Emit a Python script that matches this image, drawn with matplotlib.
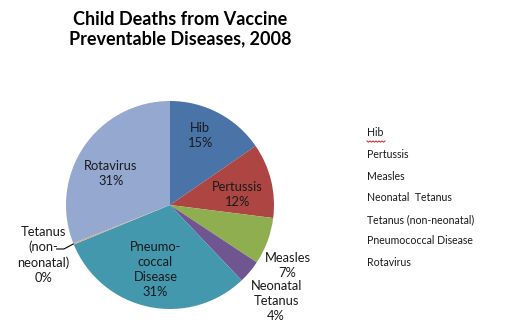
import numpy as np
import matplotlib
matplotlib.use("Agg")
import matplotlib.pyplot as plt

plt.rcParams['font.family'] = ['Lato', 'DejaVu Sans']

# legend order
diseases = ["Hib", "Pertussis", "Measles", "Neonatal  Tetanus",
            "Tetanus (non-neonatal)", "Pneumococcal Disease", "Rotavirus"]

# slices in the order they sit on the pie (clockwise from 12 o'clock)
pie_names = ["Hib", "Pertussis", "Measles", "Neonatal\nTetanus",
             "Pneumo-\ncoccal\nDisease", "Tetanus\n(non-\nneonatal)", "Rotavirus"]
shares = [15.4, 11.6, 7.3, 3.6, 30.9, 0.2, 31.0]
colors = ["#4A73A8", "#AD4542", "#8FAE4F", "#6F5690", "#4398AE", "#D9A880", "#94A8D0"]

# label positions in pie units (radius = 1)
label_pos = [(0.29, 0.67), (0.65, 0.10), (1.13, -0.58), (1.02, -0.92),
             (-0.14, -0.62), (-1.22, -0.48), (-0.57, 0.30)]

fig = plt.figure(figsize=(5.2, 3.3), dpi=100)
W, H = 520, 330
cx, cy, r = 170, 205, 104
ax = fig.add_axes([(cx - 1.6 * r) / W, (H - cy - 1.2 * r) / H, 3.2 * r / W, 2.4 * r / H])
ax.pie(shares, colors=colors, startangle=90, counterclock=False,
       wedgeprops=dict(linewidth=0))
ax.set_xlim(-1.6, 1.6)
ax.set_ylim(-1.2, 1.2)
ax.axis("off")

for lab, val, (x, y) in zip(pie_names, shares, label_pos):
    ax.text(x, y, f"{lab}\n{val:.0f}%", ha="center", va="center",
            fontsize=9.3, color="#1a1a1a", linespacing=1.3)

# leader line for the tiny tetanus slice
ax.plot([-1.09, -1.02, -0.93], [-0.423, -0.423, -0.375], color="black", lw=0.8)

fig.text(180 / W, 1 - 29 / H, "Child Deaths from Vaccine\nPreventable Diseases, 2008",
         ha="center", va="center", fontsize=13, fontweight="bold", linespacing=1.2)

# legend as plain text entries
for i, name in enumerate(diseases):
    fig.text(367 / W, 1 - (133 + 21.6 * i) / H, name, ha="left", va="center",
             fontsize=7.6, color="#1a1a1a")

# spell-check squiggle under "Hib"
xs = np.linspace(367, 385, 13)
ys = 141 + np.where(np.arange(13) % 2 == 0, 0, 1.2)
fig.add_artist(plt.Line2D(xs / W, 1 - ys / H, color="#E02020", lw=0.7))

fig.savefig("out.png", dpi=100)
